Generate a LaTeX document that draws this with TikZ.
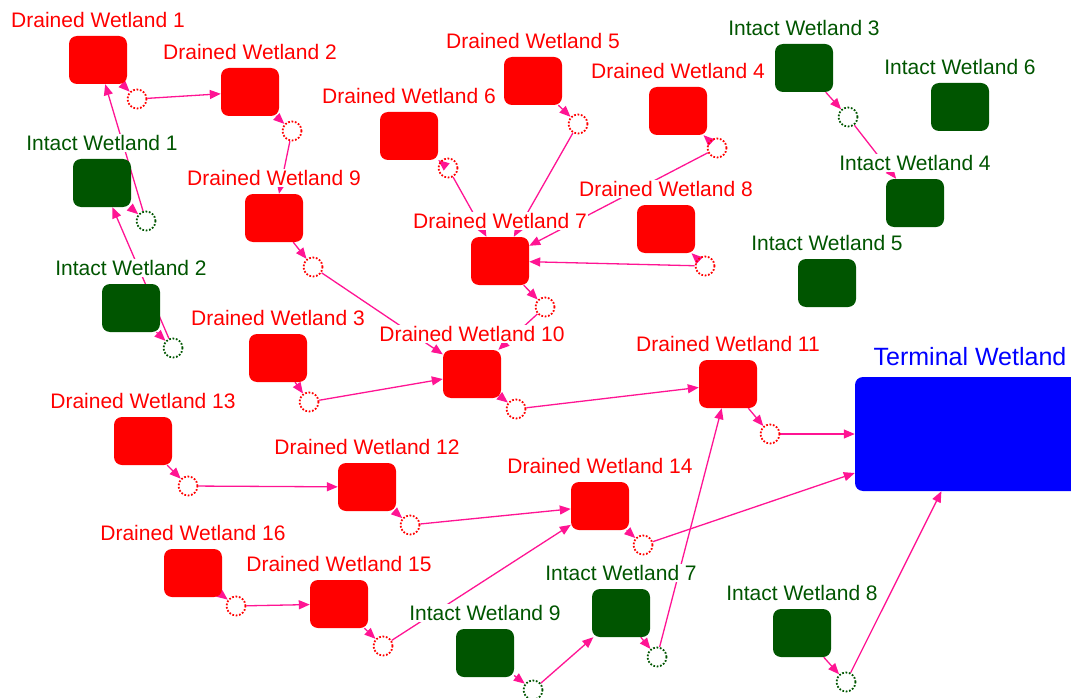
\documentclass[tikz,border=0pt]{standalone}
\usepackage{fontspec}
\setmainfont{Liberation Sans}
\usetikzlibrary{arrows.meta,backgrounds}
\definecolor{dwred}{HTML}{FF0000}
\definecolor{iwgreen}{HTML}{005500}
\definecolor{twblue}{HTML}{0000FF}
\definecolor{flowpink}{HTML}{FF1493}
\tikzset{
  wetland/.style={rectangle, rounded corners=8pt, minimum width=58pt, minimum height=48pt, inner sep=0pt},
  drained/.style={wetland, fill=dwred},
  intact/.style={wetland, fill=iwgreen},
  dname/.style={fill=white, inner sep=1pt, yshift=7pt, text=dwred, font=\fontsize{21}{25}\selectfont},
  iname/.style={dname, text=iwgreen},
  outlet/.style={circle, draw, minimum size=19pt, inner sep=0pt, line width=1.8pt, dash pattern=on 1.7pt off 1.7pt},
  doutlet/.style={outlet, draw=dwred},
  ioutlet/.style={outlet, draw=iwgreen},
  flow/.style={draw=flowpink, line width=1.3pt, -{Triangle[length=11pt,width=9pt]}}
}

\begin{document}
\begin{tikzpicture}[x=1pt, y=-1pt]
\useasboundingbox (0,0) rectangle (1071,698);

% drained wetlands
\node[drained, label={[dname]above:Drained Wetland 1}] (dw1) at (98,60) {};
\node[drained, label={[dname]above:Drained Wetland 2}] (dw2) at (250,92) {};
\node[drained, label={[dname]above:Drained Wetland 3}] (dw3) at (278,358) {};
\node[drained, label={[dname]above:Drained Wetland 4}] (dw4) at (678,111) {};
\node[drained, label={[dname]above:Drained Wetland 5}] (dw5) at (533,81) {};
\node[drained, label={[dname]above:Drained Wetland 6}] (dw6) at (409,136) {};
\node[drained, label={[dname]above:Drained Wetland 7}] (dw7) at (500,261) {};
\node[drained, label={[dname]above:Drained Wetland 8}] (dw8) at (666,229) {};
\node[drained, label={[dname]above:Drained Wetland 9}] (dw9) at (274,218) {};
\node[drained, label={[dname]above:Drained Wetland 10}] (dw10) at (472,374) {};
\node[drained, label={[dname]above:Drained Wetland 11}] (dw11) at (728,384) {};
\node[drained, label={[dname]above:Drained Wetland 12}] (dw12) at (367,487) {};
\node[drained, label={[dname]above:Drained Wetland 13}] (dw13) at (143,441) {};
\node[drained, label={[dname]above:Drained Wetland 14}] (dw14) at (600,506) {};
\node[drained, label={[dname]above:Drained Wetland 15}] (dw15) at (339,604) {};
\node[drained, label={[dname]above:Drained Wetland 16}] (dw16) at (193,573) {};

% intact wetlands
\node[intact, label={[iname]above:Intact Wetland 1}] (iw1) at (102,183) {};
\node[intact, label={[iname]above:Intact Wetland 2}] (iw2) at (131,308) {};
\node[intact, label={[iname]above:Intact Wetland 3}] (iw3) at (804,68) {};
\node[intact, label={[iname]above:Intact Wetland 4}] (iw4) at (915,203) {};
\node[intact, label={[iname]above:Intact Wetland 5}] (iw5) at (827,283) {};
\node[intact, label={[iname]above:Intact Wetland 6}] (iw6) at (960,107) {};
\node[intact, label={[iname]above:Intact Wetland 7}] (iw7) at (621,613) {};
\node[intact, label={[iname]above:Intact Wetland 8}] (iw8) at (802,633) {};
\node[intact, label={[iname]above:Intact Wetland 9}] (iw9) at (485,653) {};

\node[wetland, fill=twblue, minimum width=230pt, minimum height=114pt,
  label={[fill=white, inner sep=1pt, yshift=10pt, text=twblue, font=\fontsize{25}{30}\selectfont]above:Terminal Wetland}] (tw) at (970,434) {};

% outlets
\node[doutlet] (odw1) at (137,99) {};
\node[doutlet] (odw2) at (292,131) {};
\node[doutlet] (odw3) at (309,402) {};
\node[doutlet] (odw4) at (717,148) {};
\node[doutlet] (odw5) at (578,124) {};
\node[doutlet] (odw6) at (448,168) {};
\node[doutlet] (odw7) at (545,307) {};
\node[doutlet] (odw8) at (705,266) {};
\node[doutlet] (odw9) at (313,267) {};
\node[doutlet] (odw10) at (516,409) {};
\node[doutlet] (odw11) at (770,434) {};
\node[doutlet] (odw12) at (410,525) {};
\node[doutlet] (odw13) at (188,486) {};
\node[doutlet] (odw14) at (643,545) {};
\node[doutlet] (odw15) at (383,646) {};
\node[doutlet] (odw16) at (236,606) {};
\node[ioutlet] (oiw1) at (146,221) {};
\node[ioutlet] (oiw2) at (173,348) {};
\node[ioutlet] (oiw3) at (848,117) {};
\node[ioutlet] (oiw7) at (657,657) {};
\node[ioutlet] (oiw8) at (846,682) {};
\node[ioutlet] (oiw9) at (533,690) {};

\begin{pgfonlayer}{background}
% wetland to its outlet
\foreach \w in {dw1,dw2,dw3,dw5,dw7,dw9,dw10,dw11,dw12,dw13,dw14,dw15,dw16,iw1,iw2,iw3,iw7,iw8,iw9} {
 \draw[flow] (\w) -- (o\w);
}
\foreach \w in {dw4,dw6,dw8} {
 \draw[flow] (o\w) -- (\w);
}
% outlet to receiving wetland
\foreach \w/\t in {dw1/dw2, dw2/dw9, dw3/dw10, dw4/dw7, dw5/dw7, dw6/dw7, dw7/dw10, dw8/dw7,
  dw9/dw10, dw10/dw11, dw11/tw, dw12/dw14, dw13/dw12, dw14/tw, dw15/dw14, dw16/dw15,
  iw1/dw1, iw2/iw1, iw3/iw4, iw7/dw11, iw8/tw, iw9/iw7} {
 \draw[flow] (o\w) -- (\t);
}
\end{pgfonlayer}
\end{tikzpicture}
\end{document}
